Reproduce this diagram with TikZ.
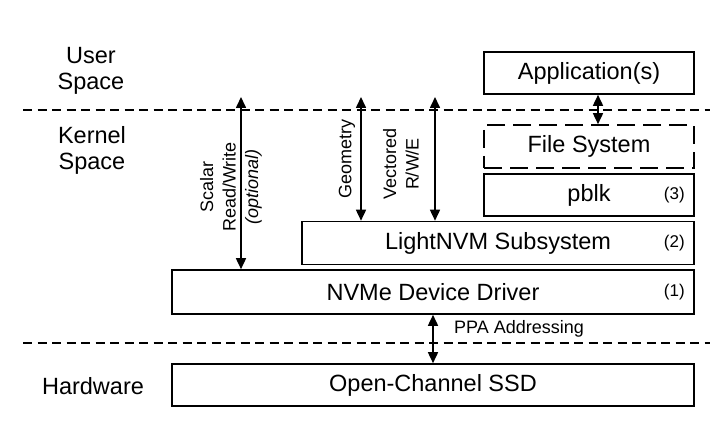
\documentclass[tikz,border=0pt]{standalone}
\usepackage{fontspec}
\setmainfont{Liberation Sans}
\usetikzlibrary{arrows.meta,positioning,calc}

\begin{document}
\begin{tikzpicture}[x=1pt,y=-1pt,>={Triangle[length=11pt,width=10pt]},line width=1.6pt,
    layer box/.style={draw,inner sep=0pt,font=\fontsize{23.5}{26}\selectfont},
    side label/.style={align=center,font=\fontsize{23.5}{26}\selectfont},
    call label/.style={rotate=90,align=center,font=\fontsize{18}{22.5}\selectfont},
    num label/.style={anchor=east,font=\fontsize{17}{20}\selectfont},
    sep line/.style={dash pattern=on 9pt off 5.5pt}]

    \useasboundingbox (0,0) rectangle (727,427);

    % separators between the spaces
    \foreach \y/\name in {110/upper,343/lower}{
        \coordinate (\name west) at (23,\y);
        \coordinate (\name east) at (710,\y);
        \draw[sep line] (\name west) -- (\name east);
    }

    % side labels
    \node[side label] (user) at (91,71) {User\\Space};
    \node[side label] (kernel) at (92,150) {Kernel\\Space};
    \node[side label] (hw) at (93,386) {Hardware};

    % layers
    \node[layer box,minimum width=210pt,minimum height=42pt] (app) at (589,73) {Application(s)};
    \node[layer box,minimum width=210pt,minimum height=43pt,dash pattern=on 18pt off 8pt] (fs) at (589,146.5) {File System};
    \node[layer box,minimum width=210pt,minimum height=42pt] (pblk) at (589,195) {pblk};
    \node[layer box,minimum width=392pt,minimum height=43pt] (lnvm) at (498,243) {LightNVM Subsystem};
    \node[layer box,minimum width=522pt,minimum height=44pt] (nvme) at (433,292) {NVMe Device Driver};
    \node[layer box,minimum width=522pt,minimum height=42pt] (ssd) at (433,385) {Open-Channel SSD};

    \foreach \layer/\num in {pblk/3,lnvm/2,nvme/1}{
        \node[num label] (num\num) at ([xshift=-6pt]\layer.east) {(\num)};
    }

    % interfaces
    \coordinate (scalar top) at (241,97);
    \coordinate (geo top) at (361,97);
    \coordinate (vec top) at (435,97);

    \path[<->]
        (scalar top) edge (scalar top |- nvme.north)
        (geo top) edge (geo top |- lnvm.north)
        (vec top) edge (vec top |- lnvm.north)
        ([xshift=9pt]app.south) edge ([xshift=9pt]fs.north)
        (nvme.south) edge (ssd.north)
    ;

    \node[call label] (scalar) at (231,187) {Scalar\\Read/Write\\\textit{(optional)}};
    \node[call label] (geo) at (347,159) {Geometry};
    \node[call label] (vec) at (401,164) {Vectored\\R/W/E};
    \node[anchor=west,font=\fontsize{18}{22.5}\selectfont] (ppa) at (450,329) {PPA Addressing};

\end{tikzpicture}
\end{document}
